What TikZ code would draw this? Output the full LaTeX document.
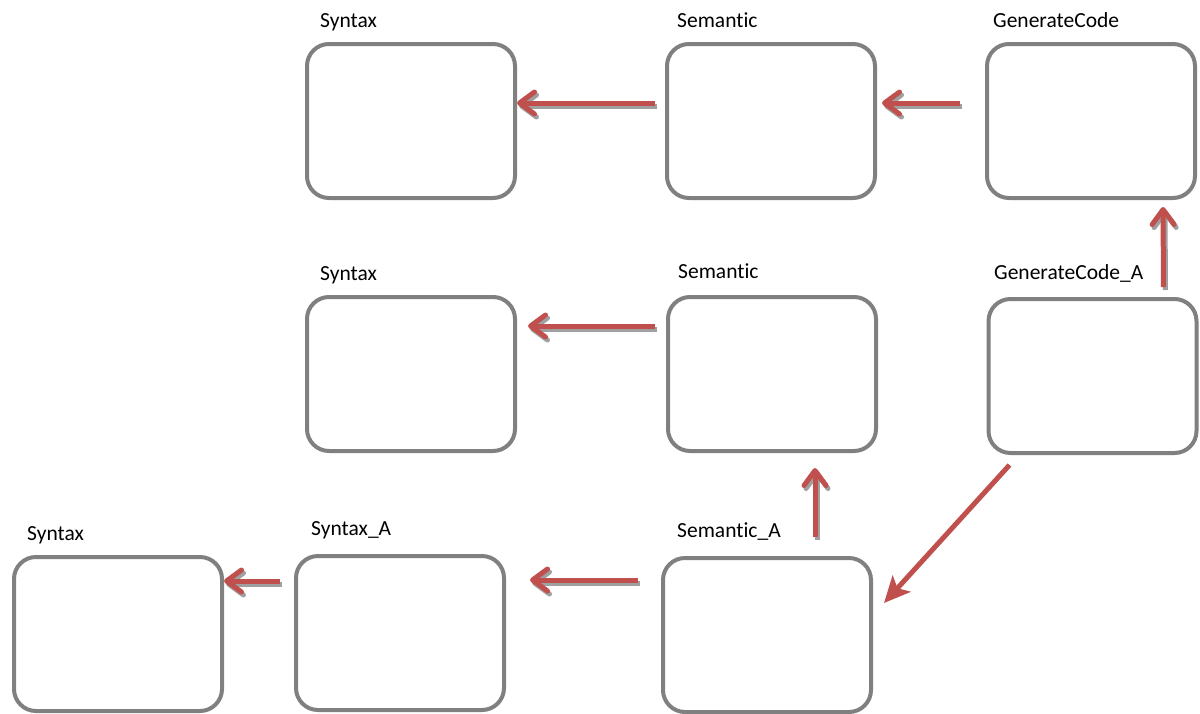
\documentclass[tikz,border=0pt]{standalone}
\usepackage{fontspec}
\setmainfont{Carlito}[Ligatures=NoCommon]
\usetikzlibrary{arrows.meta}
\definecolor{boxgray}{HTML}{808080}
\definecolor{arrred}{HTML}{C0504D}
\definecolor{shadowgray}{HTML}{A0A0A0}
\tikzset{
  box/.style={draw=boxgray, line width=4pt, rounded corners=22pt, minimum width=208pt, minimum height=154pt, inner sep=0pt, fill=white},
  lbl/.style={anchor=base west, inner sep=0pt, font=\fontsize{21.5}{25}\selectfont},
  barb/.style={-{Straight Barb[length=15pt,width=22pt,round]}, line width=5pt, line cap=butt},
  redarr/.style={barb, draw=arrred},
  shadarr/.style={barb, draw=shadowgray, transform canvas={shift={(2pt,-3pt)}}},
  diagarr/.style={-{Stealth[length=26pt,width=24pt,inset=6pt]}, line width=5pt, draw=arrred}
}
\begin{document}
\begin{tikzpicture}[x=1pt,y=-1pt]
\useasboundingbox (0,0) rectangle (1200,713);
% boxes
\node[box] (syn1) at (411,121) {};
\node[box] (sem1) at (771,121) {};
\node[box] (gen1) at (1091,121) {};
\node[box] (syn2) at (411,374) {};
\node[box] (sem2) at (772,374) {};
\node[box] (genA) at (1092.5,376) {};
\node[box] (syn3) at (118,634) {};
\node[box] (synA) at (400,633) {};
\node[box] (semA) at (767,635) {};
% labels
\node[lbl] (l1) at (320,27) {Syntax};
\node[lbl] (l2) at (677,27) {Semantic};
\node[lbl] (l3) at (993,27) {GenerateCode};
\node[lbl] (l4) at (320,280) {Syntax};
\node[lbl] (l5) at (678,278) {Semantic};
\node[lbl] (l6) at (994,279) {GenerateCode\_A};
\node[lbl] (l7) at (27,540) {Syntax};
\node[lbl] (l8) at (311,535) {Syntax\_A};
\node[lbl] (l9) at (677,537) {Semantic\_A};
% arrows: shadows
\draw[shadarr, shorten <=10pt] ([yshift=18pt]sem1.west) -- ([yshift=18pt]syn1.east);
\draw[shadarr, shorten <=25pt, shorten >=5pt] ([yshift=18pt]gen1.west) -- ([yshift=18pt]sem1.east);
\draw[shadarr, shorten <=10pt, shorten >=7pt] ([xshift=71pt]genA.north) -- ([xshift=72pt]gen1.south);
\draw[shadarr, shorten <=11pt, shorten >=11pt] ([yshift=48pt]sem2.west) -- ([yshift=48pt]syn2.east);
\draw[shadarr, shorten <=19pt, shorten >=15pt] ([xshift=48pt]semA.north) -- ([xshift=43pt]sem2.south);
\draw[shadarr, shorten <=23pt, shorten >=24pt] ([yshift=55pt]semA.west) -- ([yshift=53pt]synA.east);
\draw[shadarr, shorten <=14pt, shorten >=0pt] ([yshift=52pt]synA.west) -- ([yshift=53pt]syn3.east);
% arrows: red
\draw[redarr, shorten <=10pt] ([yshift=18pt]sem1.west) -- ([yshift=18pt]syn1.east);
\draw[redarr, shorten <=25pt, shorten >=5pt] ([yshift=18pt]gen1.west) -- ([yshift=18pt]sem1.east);
\draw[redarr, shorten <=10pt, shorten >=7pt] ([xshift=71pt]genA.north) -- ([xshift=72pt]gen1.south);
\draw[redarr, shorten <=11pt, shorten >=11pt] ([yshift=48pt]sem2.west) -- ([yshift=48pt]syn2.east);
\draw[redarr, shorten <=19pt, shorten >=15pt] ([xshift=48pt]semA.north) -- ([xshift=43pt]sem2.south);
\draw[redarr, shorten <=23pt, shorten >=24pt] ([yshift=55pt]semA.west) -- ([yshift=53pt]synA.east);
\draw[redarr, shorten <=14pt, shorten >=0pt] ([yshift=52pt]synA.west) -- ([yshift=53pt]syn3.east);
\draw[diagarr] ([xshift=-83pt,yshift=-10pt]genA.south) -- ([xshift=11pt,yshift=-47pt]semA.north east);
\end{tikzpicture}
\end{document}
